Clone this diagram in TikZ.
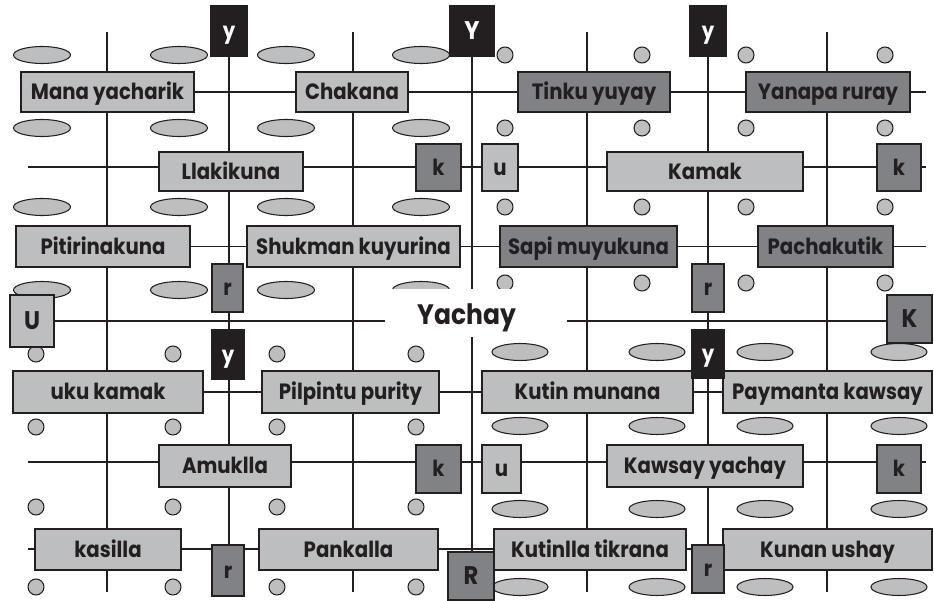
\documentclass[tikz,border=0pt]{standalone}
\usepackage{fontspec}
\setmainfont{Poppins}[FakeStretch=0.89]
\usetikzlibrary{backgrounds}

\definecolor{ink}{HTML}{231F20}
\definecolor{boxlight}{HTML}{BCBEC0}
\definecolor{boxdark}{HTML}{808285}

\tikzset{
	box/.style={draw=ink, line width=0.6pt, inner sep=0pt, text=ink,
		text height=9pt, text depth=0pt,
		font=\bfseries\fontsize{12.6}{14}\selectfont},
	light/.style={box, fill=boxlight},
	dark/.style={box, fill=boxdark},
	night/.style={box, fill=ink, text=white},
	big/.style={font=\bfseries\fontsize{14.5}{16}\selectfont, text height=10pt},
	wh/.style 2 args={minimum width=#1*0.2mm, minimum height=#2*0.2mm},
	grid/.style={draw=ink, line width=0.6pt},
	oval/.style={draw=ink, line width=0.6pt, fill=boxlight}
}

\begin{document}
\begin{tikzpicture}[x=0.2mm, y=-0.2mm]

\path [use as bounding box] (0,0) rectangle (934,600);

% DOTS
\foreach \i in {42,179,286,421}
	\foreach \j in {55,128,207,290}
		\draw [oval] (\i,\j) ellipse [x radius=28.5, y radius=8.5];
\foreach \i in {505,642,746,885}
	\foreach \j in {55,128,207,283}
		\draw [oval] (\i,\j) circle [radius=8];
\foreach \i in {36,173,277,416}
	\foreach \j in {354,427,507,587}
		\draw [oval] (\i,\j) circle [radius=8];
\foreach \i in {520,657,765,899}
	\foreach \j in {352,426,509,587}
		\draw [oval] (\i,\j) ellipse [x radius=28, y radius=8.5];

% CENTRE
\fill [white] (385,289) rectangle (567,337);
\node [text=ink, font=\bfseries\fontsize{16}{18}\selectfont] (yachay) at (467,318) {Yachay};

% WORDS
\node [light, wh={173}{40}] (mana) at (107.5,92) {Mana yacharik};
\node [light, wh={112}{40}] (chakana) at (352,92) {Chakana};
\node [dark, wh={152}{40}] (tinku) at (594,92) {Tinku yuyay};
\node [dark, wh={164}{40}] (yanapa) at (828,92) {Yanapa ruray};
\node [light, wh={144}{39}] (llaki) at (231,171.5) {Llakikuna};
\node [light, wh={196}{39}] (kamak) at (705,171.5) {Kamak};
\node [light, wh={174}{41}] (pitiri) at (103,246.5) {Pitirinakuna};
\node [light, wh={213}{41}] (shukman) at (353.5,246.5) {Shukman kuyurina};
\node [dark, wh={177}{41}] (sapi) at (588.5,246.5) {Sapi muyukuna};
\node [dark, wh={135}{41}] (pacha) at (825.5,246.5) {Pachakutik};
\node [light, wh={190}{42}] (uku) at (108,392) {uku kamak};
\node [light, wh={177}{42}] (pilpintu) at (350.5,392) {Pilpintu purity};
\node [light, wh={211}{42}] (kutin) at (587.5,392) {Kutin munana};
\node [light, wh={209}{42}] (paymanta) at (827.5,392) {Paymanta kawsay};
\node [light, wh={132}{42}] (amuklla) at (225,466) {Amuklla};
\node [light, wh={196}{42}] (kawsay) at (705,466) {Kawsay yachay};
\node [light, wh={146}{41}] (kasilla) at (108,549.5) {kasilla};
\node [light, wh={179}{41}] (pankalla) at (348.5,549.5) {Pankalla};
\node [light, wh={192}{41}] (kutinlla) at (590,549.5) {Kutinlla tikrana};
\node [light, wh={209}{41}] (kunan) at (827.5,549.5) {Kunan ushay};

% LETTERS
\node [night, wh={36}{50}] (y1) at (229,31) {y};
\node [night, big, wh={44}{50}] (ytop) at (472,31) {Y};
\node [night, wh={36}{50}] (y2) at (708,31) {y};
\node [dark, wh={45}{47}] (k1) at (438.5,167.5) {k};
\node [light, wh={36}{47}] (u1) at (500,167.5) {u};
\node [dark, wh={44}{47}] (k2) at (899,167.5) {k};
\node [dark, wh={31}{48}] (r1) at (227.5,288) {r};
\node [dark, wh={32}{48}] (r2) at (708,288) {r};
\node [light, big, wh={44}{52}] (uleft) at (32,321) {U};
\node [dark, big, wh={45}{48}] (kright) at (909.5,319) {K};
\node [night, wh={32}{49}] (y3) at (228,354.5) {y};
\node [night, wh={32}{48}] (y4) at (708,354) {y};
\node [dark, wh={45}{48}] (k3) at (438.5,469) {k};
\node [light, wh={39}{48}] (u2) at (501.5,469) {u};
\node [dark, wh={44}{48}] (k4) at (899,469) {k};
\node [dark, wh={32}{51}] (r3) at (228,570.5) {r};
\node [dark, wh={32}{48}] (r4) at (708,569) {r};
\node [dark, big, wh={46}{48}] (rbot) at (471,576) {R};

% GRID
\begin{scope}[on background layer]
	\coordinate (n1) at (107,32);  \coordinate (s1) at (107,592);
	\coordinate (n3) at (353,32);  \coordinate (s3) at (353,592);
	\coordinate (n5) at (587,32);  \coordinate (s5) at (587,592);
	\coordinate (n7) at (827,32);  \coordinate (s7) at (827,592);
	\coordinate (w2) at (28,167);
	\coordinate (w6) at (28,462);
	\coordinate (w7) at (28,549);
	\coordinate (e) at (926,0);

	\foreach \c in {1,3,5,7}
		\draw [grid] (n\c) -- (s\c);
	\draw [grid] (y1) -- (y1 |- r3);
	\draw [grid] (ytop) -- (ytop |- rbot);
	\draw [grid] (y2) -- (y2 |- r4);

	\draw [grid] (mana) -- (mana -| e);
	\draw [grid] (w2) -- (w2 -| e);
	\draw [grid] (pitiri) -- (pitiri -| e);
	\draw [grid] (uleft) -- (uleft -| kright);
	\draw [grid] (uku) -- (uku -| paymanta);
	\draw [grid] (w6) -- (w6 -| e);
	\draw [grid] (w7) -- (w7 -| kunan);
\end{scope}

\end{tikzpicture}
\end{document}
